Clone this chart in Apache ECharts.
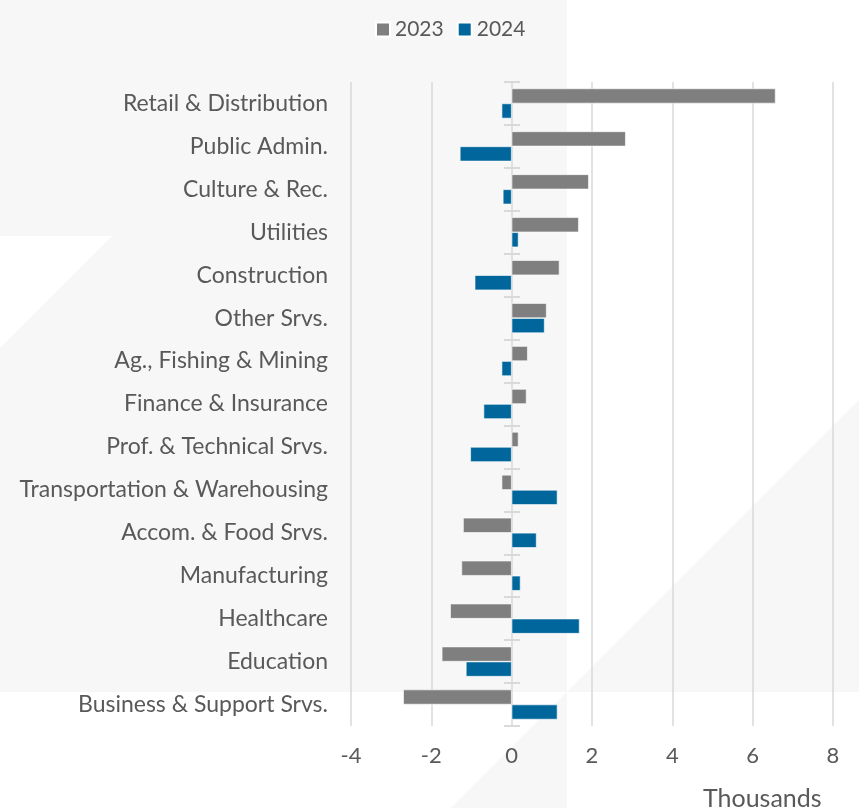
<!DOCTYPE html>
<html>
<head>
<meta charset="utf-8">
<script src="https://cdn.jsdelivr.net/npm/echarts@6/dist/echarts.min.js"></script>
<style>
  html, body { margin: 0; padding: 0; background: #fff; }
  #chart { width: 859px; height: 808px; }
</style>
</head>
<body>
<div id="chart"></div>
<script>
// categories, top to bottom
var categories = [
  "Retail & Distribution", "Public Admin.", "Culture & Rec.", "Utilities",
  "Construction", "Other Srvs.", "Ag., Fishing & Mining", "Finance & Insurance",
  "Prof. & Technical Srvs.", "Transportation & Warehousing", "Accom. & Food Srvs.",
  "Manufacturing", "Healthcare", "Education", "Business & Support Srvs."
];
// thousands
var values2023 = [6.57, 2.84, 1.92, 1.67, 1.19, 0.87, 0.40, 0.37, 0.17, -0.25, -1.21, -1.25, -1.53, -1.74, -2.70];
var values2024 = [-0.25, -1.29, -0.22, 0.17, -0.92, 0.82, -0.25, -0.70, -1.03, 1.14, 0.62, 0.22, 1.69, -1.14, 1.14];
var xTicks = { min: -4, max: 8, interval: 2 };

var font = "Lato";
var textColor = "#595959";
var bg = "#f7f7f7";

var myChart = echarts.init(document.getElementById("chart"));

var option = {
  backgroundColor: "#ffffff",
  animation: false,
  textStyle: { fontFamily: font },
  graphic: [
    {
      type: "polygon", z: -10, silent: true,
      shape: { points: [[0, 0], [567, 0], [567, 692], [0, 692], [0, 348], [112, 236], [0, 236]] },
      style: { fill: bg }
    },
    {
      type: "polygon", z: -10, silent: true,
      shape: { points: [[859, 400], [859, 692], [567, 692]] },
      style: { fill: bg }
    },
    {
      type: "polygon", z: -10, silent: true,
      shape: { points: [[567, 692], [451, 808], [567, 808]] },
      style: { fill: bg }
    },
    {
      type: "text", left: 703, top: 786,
      style: { text: "Thousands", fill: textColor, font: "25px " + font }
    }
  ],
  legend: {
    top: 14,
    left: 370,
    itemWidth: 14,
    itemHeight: 14,
    itemGap: 13,
    icon: "rect",
    textStyle: { color: textColor, fontSize: 21, fontFamily: font },
    data: ["2023", "2024"]
  },
  grid: [
    { left: 351, right: 26, top: 82, bottom: 82, containLabel: false },
    // thin strip at zero, only for the short cross ticks
    { left: 504, width: 16, top: 82, bottom: 82, containLabel: false }
  ],
  xAxis: [
    {
      type: "value",
      min: xTicks.min,
      max: xTicks.max,
      interval: xTicks.interval,
      axisLine: { show: false },
      axisTick: { show: false },
      splitLine: { lineStyle: { color: "#d9d9d9", width: 1.5 } },
      axisLabel: { color: textColor, fontSize: 22, margin: 19, fontFamily: font }
    },
    {
      type: "value",
      gridIndex: 1,
      show: false
    }
  ],
  yAxis: [
    {
      type: "category",
      inverse: true,
      data: categories,
      axisLine: { show: false, onZero: false },
      axisTick: { show: false },
      axisLabel: { color: textColor, fontSize: 23, margin: 23, fontFamily: font }
    },
    {
      type: "category",
      gridIndex: 1,
      inverse: true,
      data: categories,
      axisLine: { show: false, onZero: false },
      axisTick: { show: true, inside: true, length: 16, lineStyle: { color: "#d9d9d9", width: 2 } },
      axisLabel: { show: false },
      splitLine: { show: false }
    }
  ],
  series: [
    {
      name: "2023",
      type: "bar",
      barWidth: 15,
      barGap: "0%",
      data: values2023,
      itemStyle: { color: "#7f7f7f", borderColor: "#ffffff", borderWidth: 0.6 }
    },
    {
      name: "2024",
      type: "bar",
      barWidth: 15,
      barGap: "0%",
      data: values2024,
      itemStyle: { color: "#00669b", borderColor: "#ffffff", borderWidth: 0.6 }
    }
  ]
};

myChart.setOption(option);
window.addEventListener("resize", function () {
  myChart.resize();
});
</script>
</body>
</html>
